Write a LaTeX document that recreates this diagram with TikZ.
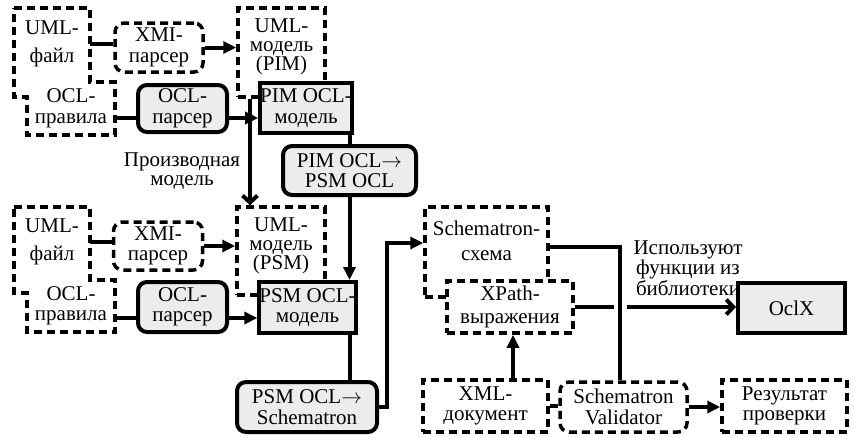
\documentclass[tikz,border=0pt]{standalone}
\usepackage{fontspec}
\setmainfont{Liberation Serif}
\usetikzlibrary{arrows.meta,calc}
\begin{document}
\begin{tikzpicture}[x=1pt,y=-1pt,
  every node/.style={font=\fontsize{21}{20.5}\selectfont, align=center, inner sep=0pt},
  lead/.style={font=\fontsize{21}{#1}\selectfont},
  sz/.style 2 args={minimum width=#1pt, minimum height=#2pt},
  dline/.style={line width=3.5pt, dash pattern=on 8pt off 5pt},
  dbox/.style={draw, dline, fill=white},
  drbox/.style={dbox, rounded corners=9pt},
  sbox/.style={draw, line width=4pt, fill=gray!15},
  srbox/.style={sbox, rounded corners=9pt},
  conn/.style={line width=4pt},
  tri/.style={conn, -{Triangle[length=13pt,width=12pt]}},
  barb/.style={conn, -{Straight Barb[length=7pt,width=15pt]}}]
\useasboundingbox (0,0) rectangle (854,437);

% ---- PIM branch ----
\draw[dline] (14,8) -- (90,8) -- (90,82) -- (115,82) -- (115,135) -- (27,135)
  -- (27,97) -- (14,97) -- cycle;
\node[sz={76}{74}, lead=28] (uf1) at (52,44) {UML-\\файл};
\node[sz={88}{53}] (ocl1) at (71,108.5) {OCL-\\правила};
\node[drbox, sz={88}{49}] (xmi1) at (159,47.5) {XMI-\\парсер};
\node[dbox, sz={87}{89}] (uml1) at (281.5,52.5) {};
\node[lead=19] (uml1t) at (281.5,47) {UML-\\модель\\(PIM)};
\node[srbox, sz={89}{47}] (op1) at (182.5,108.5) {OCL-\\парсер};
\node[sbox, sz={88}{50}] (pim1) at (306,108) {PIM OCL-\\модель};
\node[srbox, sz={133}{49}] (pp) at (349.5,170.5) {PIM OCL$\rightarrow$\\PSM OCL};
\node[lead=19] (deriv) at (182,171) {Производная\\модель};

% ---- PSM branch ----
\draw[dline] (14,207) -- (90,207) -- (90,280) -- (115,280) -- (115,332) -- (27,332)
  -- (27,293) -- (14,293) -- cycle;
\node[sz={76}{73}, lead=28] (uf2) at (52,242) {UML-\\файл};
\node[sz={88}{52}] (ocl2) at (71,306) {OCL-\\правила};
\node[drbox, sz={89}{48}] (xmi2) at (158,246) {XMI-\\парсер};
\node[dbox, sz={88}{88}] (uml2) at (281,251) {};
\node[lead=19] (uml2t) at (281,246) {UML-\\модель\\(PSM)};
\node[srbox, sz={89}{50}] (op2) at (182.5,307) {OCL-\\парсер};
\node[sbox, sz={89}{51}] (psm1) at (307.5,307.5) {PSM OCL-\\модель};
\node[srbox, sz={140}{50}] (ps) at (307,407) {PSM OCL$\rightarrow$\\Schematron};

% ---- Schematron side ----
\node[dbox, sz={123}{90}] (sch) at (486.5,252) {};
\node[lead=25] (scht) at (486.5,241) {Schematron-\\схема};
\node[dbox, sz={126}{52}, lead=23] (xp) at (510,307) {XPath-\\выражения};
\node[sbox, sz={107}{50}] (oclx) at (791.5,308) {OclX};
\node[dbox, sz={125}{52}] (xml) at (485.5,406) {XML-\\документ};
\node[drbox, sz={127}{50}] (sv) at (623.5,407) {Schematron\\Validator};
\node[dbox, sz={125}{52}] (res) at (784.5,406) {Результат\\проверки};
\node (uses) at (688,268) {Используют\\функции из\\библиотеки};

% ---- helper coordinates ----
\coordinate (r1) at (0,118);
\coordinate (r2) at (0,318);
\coordinate (vx1) at (250,0);
\coordinate (c350) at (350,0);
\coordinate (jx) at (387,243);
\coordinate (jy) at (0,247);
\coordinate (vx) at (620,0);
\coordinate (g1) at (614,0);
\coordinate (g2) at (627,0);
\coordinate (ux) at (513,0);

% ---- connectors, PIM ----
\draw[conn] (uf1.east) -- (uf1.east -| xmi1.west);
\draw[tri] (xmi1.east) -- (xmi1.east -| uml1.west);
\draw[conn] (ocl1.east |- r1) -- (op1.west |- r1);
\draw[tri] (op1.east |- r1) -- (pim1.west |- r1);
\draw[conn] (pp.north |- pim1.south) -- (pp.north);
\draw[barb] (vx1 |- uml1.south) -- (vx1 |- uml2.north);

% ---- connectors, PSM ----
\draw[conn] (uf2.east) -- (uf2.east -| xmi2.west);
\draw[tri] (xmi2.east) -- (xmi2.east -| uml2.west);
\draw[conn] (ocl2.east |- r2) -- (op2.west |- r2);
\draw[tri] (op2.east |- r2) -- (psm1.west |- r2);
\draw[tri] (pp.south) -- (pp.south |- psm1.north);
\draw[conn] (c350 |- psm1.south) -- (c350 |- ps.north);
\draw[tri] (ps.east) -| (jx) -- (jx -| sch.west);

% ---- connectors, Schematron ----
\draw[conn] (sch.east |- jy) -| (vx |- sv.north);
\draw[conn] (xp.east) -- (xp.east -| g1);
\draw[barb] (g2 |- xp.east) -- (oclx.west |- xp.east);
\draw[tri] (ux |- xml.north) -- (ux |- xp.south);
\draw[conn] (xml.east) -- (xml.east -| sv.west);
\draw[tri] (sv.east) -- (sv.east -| res.west);
\end{tikzpicture}
\end{document}
